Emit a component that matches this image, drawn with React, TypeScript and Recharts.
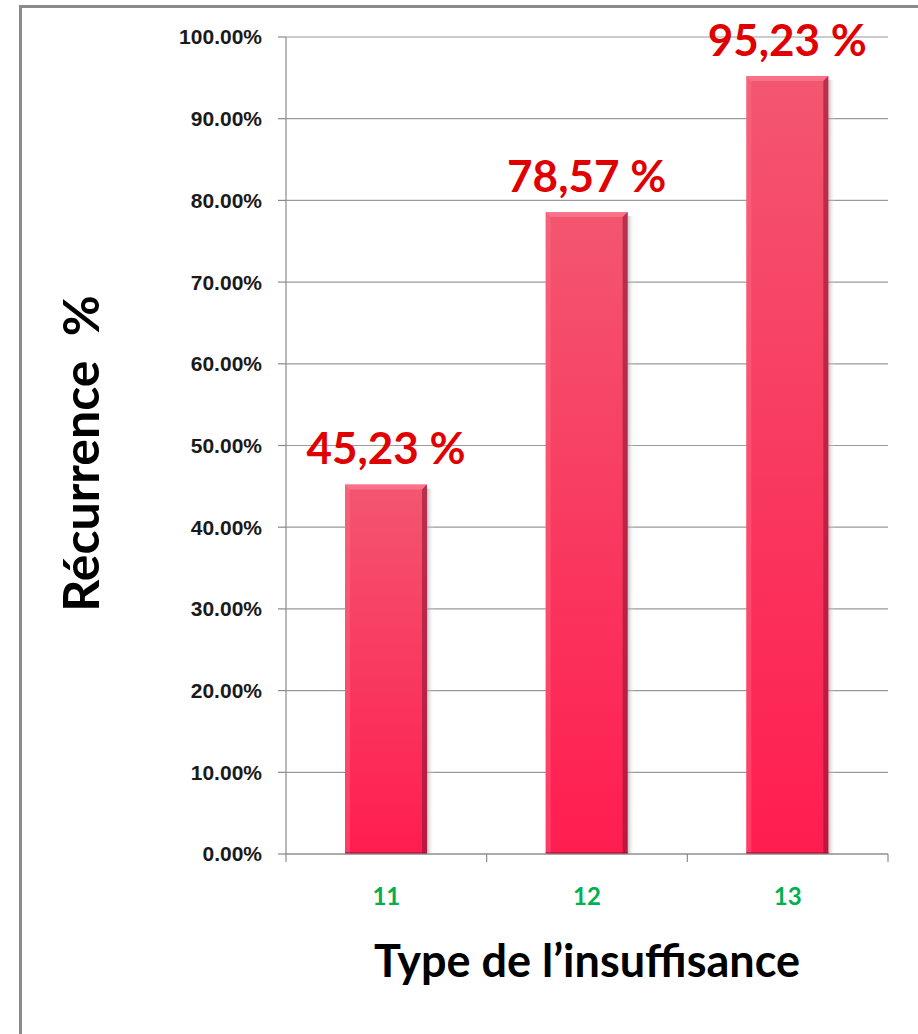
import { Bar, BarChart, CartesianGrid, LabelList, XAxis, YAxis } from "recharts"

const categories = ["11", "12", "13"]
const recurrence = [0.4523, 0.7857, 0.9523]
const yTicks = [0, 0.1, 0.2, 0.3, 0.4, 0.5, 0.6, 0.7, 0.8, 0.9, 1.0]

const data = categories.map((type, i) => ({ type, value: recurrence[i] }))

const calibriLike = "Lato, 'Open Sans', sans-serif"
const axisGray = "#8a8a8a"

const pct = (v: number) => `${(v * 100).toFixed(2)}%`
const frPct = (v: number) => `${(v * 100).toFixed(2).replace(".", ",")} %`

// bar with a bevelled edge and a soft shadow, roughly like the office look
function BevelBar(props: any) {
  const { x, y, width, height } = props
  if (!height || height <= 0) return null
  const b = 5
  return (
    <g>
      <rect x={x + width} y={y + 4} width={7} height={height - 4} fill="url(#barShadow)" />
      <rect x={x} y={y} width={width} height={height} fill="url(#barFill)" />
      <polygon
        points={`${x},${y} ${x + width},${y} ${x + width - b},${y + b} ${x + b},${y + b}`}
        fill="#ff8aa0"
        opacity={0.55}
      />
      <polygon
        points={`${x},${y} ${x + b},${y + b} ${x + b},${y + height} ${x},${y + height}`}
        fill="#ff7890"
        opacity={0.35}
      />
      <polygon
        points={`${x + width},${y} ${x + width},${y + height} ${x + width - b},${y + height} ${x + width - b},${y + b}`}
        fill="#8a1030"
        opacity={0.55}
      />
      <rect x={x} y={y + height - 2} width={width} height={2} fill="#9a1535" opacity={0.6} />
    </g>
  )
}

// category label plus Excel-style tick marks on the band edges
function CategoryTick(props: any) {
  const { x, y, payload, index, visibleTicksCount } = props
  const half = payload?.offset ?? 100
  const last = index === visibleTicksCount - 1
  return (
    <g>
      <line x1={x - half} x2={x - half} y1={y} y2={y + 8} stroke={axisGray} strokeWidth={1.2} />
      {last && <line x1={x + half} x2={x + half} y1={y} y2={y + 8} stroke={axisGray} strokeWidth={1.2} />}
      <text
        x={x}
        y={y + 51}
        textAnchor="middle"
        fill="#00b050"
        fontSize={24}
        fontWeight={700}
        fontFamily={calibriLike}
      >
        {payload.value}
      </text>
    </g>
  )
}

export default function App() {
  return (
    <div
      style={{
        position: "absolute",
        left: 0,
        top: 0,
        width: 918,
        height: 1034,
        overflow: "hidden",
        background: "#fff",
      }}
    >
      <div
        style={{
          position: "absolute",
          left: 19,
          top: 5,
          width: 1000,
          height: 1100,
          borderLeft: "3px solid #8a8a8a",
          borderTop: "3px solid #8a8a8a",
        }}
      />
      <div style={{ position: "absolute", left: 0, top: 0 }}>
        <BarChart width={918} height={1034} data={data} margin={{ top: 37, right: 30, left: 0, bottom: 0 }}>
          <defs>
            <linearGradient id="barFill" x1="0" y1="0" x2="0" y2="1">
              <stop offset="0%" stopColor="#f3566f" />
              <stop offset="100%" stopColor="#ff1d4f" />
            </linearGradient>
            <linearGradient id="barShadow" x1="0" y1="0" x2="1" y2="0">
              <stop offset="0%" stopColor="#999" stopOpacity={0.6} />
              <stop offset="100%" stopColor="#fff" stopOpacity={0} />
            </linearGradient>
          </defs>
          <CartesianGrid horizontal={true} vertical={false} stroke="#9a9a9a" strokeWidth={1.2} />
          <XAxis
            dataKey="type"
            height={180}
            interval={0}
            axisLine={{ stroke: axisGray, strokeWidth: 1.2 }}
            tickLine={false}
            tickSize={0}
            tickMargin={0}
            tick={<CategoryTick />}
            label={{
              content: ({ viewBox }: any) => (
                <text
                  x={viewBox.x + viewBox.width / 2}
                  y={viewBox.y + 123}
                  textAnchor="middle"
                  fontFamily={calibriLike}
                  fontWeight={700}
                  fontSize={45}
                  fill="#000"
                >
                  Type de l’insuffisance
                </text>
              ),
            }}
          />
          <YAxis
            domain={[0, 1]}
            ticks={yTicks}
            width={286}
            tickFormatter={pct}
            axisLine={{ stroke: axisGray, strokeWidth: 1.2 }}
            tickLine={{ stroke: axisGray, strokeWidth: 1.2 }}
            tickSize={8}
            tickMargin={16}
            tick={{ fill: "#1a1a1a", fontSize: 21, fontWeight: 700, fontFamily: "'Liberation Sans', Arial, sans-serif" }}
            label={{
              content: ({ viewBox }: any) => {
                const cy = viewBox.y + viewBox.height / 2 + 8
                return (
                  <text
                    x={99}
                    y={cy}
                    transform={`rotate(-90, 99, ${cy})`}
                    textAnchor="middle"
                    fontFamily={calibriLike}
                    fontWeight={700}
                    fontSize={50}
                    fill="#000"
                    style={{ whiteSpace: "pre" }}
                  >
                    {"Récurrence  %"}
                  </text>
                )
              },
            }}
          />
          <Bar dataKey="value" barSize={82} shape={<BevelBar />} isAnimationActive={false}>
            <LabelList
              dataKey="value"
              position="top"
              offset={20}
              formatter={(v: any) => frPct(Number(v))}
              fill="#e00000"
              fontSize={44}
              fontWeight={700}
              fontFamily={calibriLike}
            />
          </Bar>
        </BarChart>
      </div>
    </div>
  )
}
